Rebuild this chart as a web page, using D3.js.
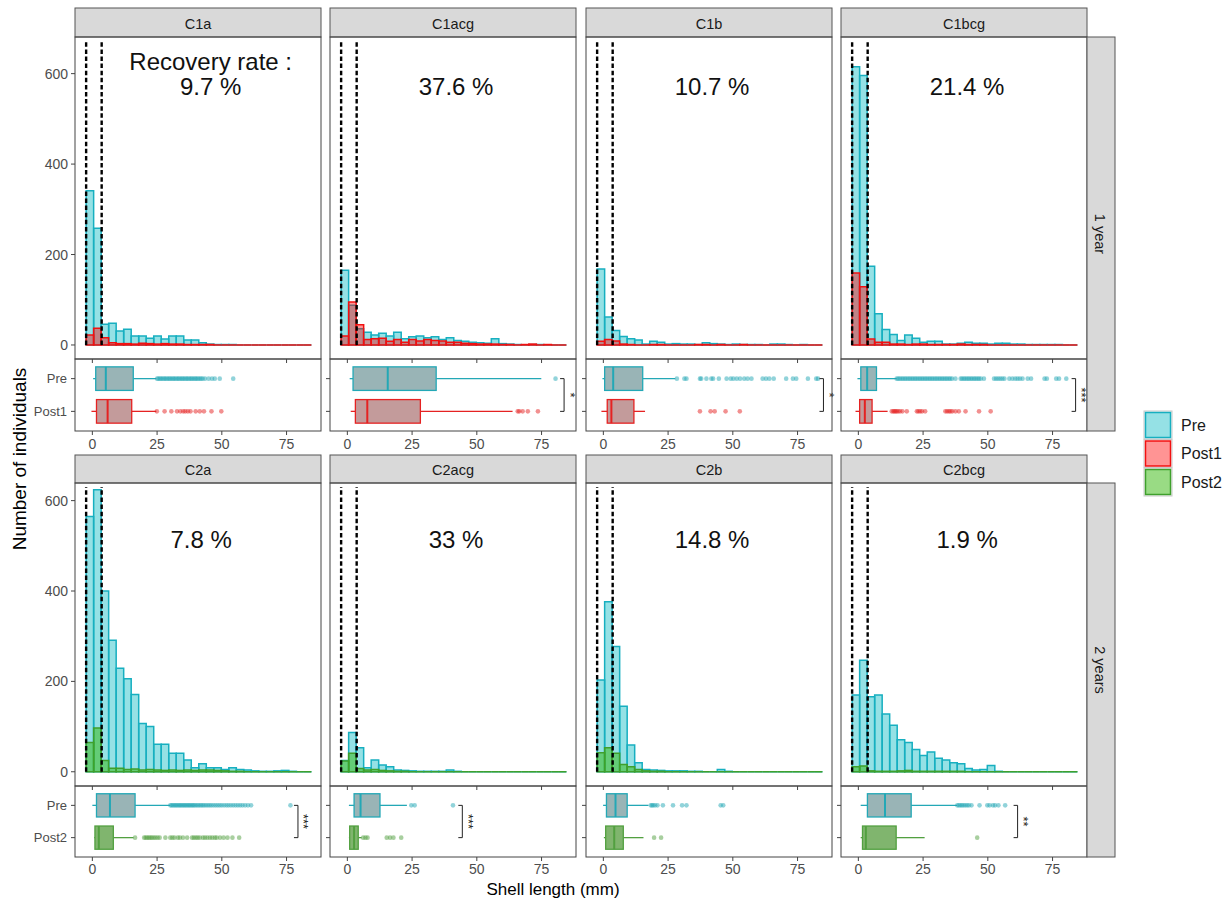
<!DOCTYPE html>
<html>
<head>
<meta charset="utf-8">
<script src="https://cdn.jsdelivr.net/npm/d3@7"></script>
<style>
  body { margin: 0; background: #fff; }
  text { font-family: "Liberation Sans", Arial, sans-serif; }
</style>
</head>
<body>
<div id="chart"></div>
<script>
// ---- data ----
const panelNames = ["C1a", "C1acg", "C1b", "C1bcg", "C2a", "C2acg", "C2b", "C2bcg"];
const recoveryLabels = ["9.7 %", "37.6 %", "10.7 %", "21.4 %", "7.8 %", "33 %", "14.8 %", "1.9 %"];
const rowLabels = ["1 year", "2 years"];
const seriesNames = ["Pre", "Post1", "Post2"];
const xTicks = [0, 25, 50, 75];
const yTicks = [0, 200, 400, 600];
const cutoffs = [-2.4, 3.6];          // dashed lines (mm)
const binStart = -2.4, binWidth = 2.9; // histogram bins (mm)

// counts per bin (30 bins)
const preCounts = [
  [341, 258, 46, 48, 31, 35, 20, 20, 15, 20, 13, 20, 20, 11, 11, 5, 2, 1, 1, 1, 0, 0, 0, 0, 0, 0, 0, 0, 0, 0],
  [165, 88, 36, 28, 22, 26, 20, 28, 14, 18, 20, 16, 18, 12, 16, 10, 8, 6, 5, 4, 14, 3, 2, 1, 0, 1, 1, 0, 0, 0],
  [168, 62, 32, 19, 14, 11, 2, 8, 6, 2, 3, 2, 2, 1, 5, 3, 2, 1, 2, 1, 1, 1, 0, 2, 2, 1, 0, 1, 0, 0],
  [615, 596, 174, 69, 34, 23, 10, 22, 15, 6, 8, 8, 2, 2, 4, 6, 4, 4, 2, 4, 4, 2, 2, 1, 1, 1, 1, 1, 0, 0],
  [565, 624, 400, 291, 229, 206, 171, 107, 100, 61, 61, 41, 41, 26, 9, 18, 9, 9, 5, 9, 5, 4, 2, 1, 1, 2, 3, 1, 0, 0],
  [25, 87, 53, 9, 26, 15, 11, 4, 3, 2, 1, 1, 1, 1, 4, 1, 0, 0, 0, 0, 0, 0, 0, 0, 0, 0, 0, 0, 0, 0],
  [203, 376, 277, 145, 59, 20, 5, 4, 3, 2, 2, 2, 1, 1, 0, 0, 5, 1, 0, 0, 0, 0, 0, 0, 0, 0, 0, 0, 0, 0],
  [170, 247, 166, 170, 128, 103, 71, 65, 49, 36, 44, 30, 26, 20, 18, 7, 4, 5, 14, 1, 0, 0, 0, 0, 0, 0, 0, 0, 0, 0]
];
const postCounts = [
  [22, 37, 16, 5, 3, 3, 2, 4, 3, 2, 3, 2, 2, 1, 1, 1, 1, 0, 0, 0, 0, 0, 0, 0, 0, 0, 0, 0, 0, 0],
  [20, 95, 45, 12, 14, 15, 8, 12, 6, 12, 9, 12, 10, 9, 6, 6, 4, 3, 2, 2, 2, 1, 1, 0, 1, 2, 0, 1, 0, 0],
  [8, 12, 9, 2, 1, 0, 0, 1, 1, 0, 0, 0, 0, 1, 1, 0, 1, 0, 0, 1, 0, 0, 0, 0, 0, 0, 0, 0, 0, 0],
  [159, 129, 13, 6, 6, 2, 2, 1, 2, 2, 1, 1, 1, 1, 2, 1, 1, 1, 0, 0, 0, 0, 0, 0, 0, 0, 0, 0, 0, 0],
  [65, 97, 25, 8, 8, 5, 6, 4, 5, 4, 3, 4, 3, 4, 3, 4, 4, 3, 2, 1, 1, 0, 0, 0, 0, 0, 0, 0, 0, 0],
  [24, 41, 7, 4, 5, 3, 2, 1, 1, 0, 0, 0, 0, 0, 0, 0, 0, 0, 0, 0, 0, 0, 0, 0, 0, 0, 0, 0, 0, 0],
  [42, 53, 41, 16, 11, 5, 2, 1, 1, 0, 0, 0, 0, 0, 0, 0, 0, 0, 0, 0, 0, 0, 0, 0, 0, 0, 0, 0, 0, 0],
  [11, 13, 2, 1, 1, 1, 2, 3, 1, 1, 1, 1, 1, 1, 1, 0, 0, 0, 0, 0, 0, 0, 0, 0, 0, 0, 0, 0, 0, 0]
];

// boxplot stats: [lower whisker, Q1, median, Q3, upper whisker]
const preBox = [
  [0.3, 1.3, 5.2, 15.8, 24.7], [0.9, 2.2, 15.6, 34.3, 74.9], [-0.35, 0.5, 3.8, 15.2, 27.8], [-0.35, 0.95, 3.4, 7.0, 14.8],
  [0, 1.6, 6.8, 16.5, 30.1], [0.6, 2.6, 5.1, 12.6, 23], [-0.1, 1.2, 4.7, 9.2, 17.4], [0.9, 3.5, 10.3, 20.4, 38.2]
];
const postBox = [
  [-0.35, 1.6, 5.9, 15.2, 24.7], [1.3, 3.1, 7.7, 28.2, 63.8], [-0.75, 1.5, 3.1, 11.8, 16.1], [-1.1, 0.5, 2.5, 5.3, 11.3],
  [0.7, 1.0, 2.5, 8.1, 15.9], [0.6, 0.9, 2.6, 4.2, 5.5], [0.2, 0.9, 4.2, 7.7, 15.5], [0.9, 1.6, 2.9, 14.6, 25.6]
];
const preOutliers = [
  [25.0, 25.5, 26.1, 26.6, 27.2, 27.8, 28.3, 28.9, 29.5, 30.0, 30.6, 31.2, 31.7, 32.3, 32.9, 33.4, 34.0, 34.6, 35.1, 35.7, 36.3, 36.8, 37.4, 38.0, 38.5, 39.1, 39.7, 40.2, 40.8, 41.4, 42.0, 42.6, 43.5, 44.9, 46.2, 47.3, 49.2, 54.4],
  [80.4],
  [28.4, 31.3, 32.1, 37.3, 37.8, 39.8, 41.7, 42.4, 44.6, 47.6, 49.2, 50.2, 51.5, 52.8, 54.4, 55.7, 57.2, 61.5, 62.8, 64.1, 65.8, 70.6, 73.2, 74.5, 79.0, 82.2, 82.9],
  [14.8, 15.4, 16.0, 16.7, 17.3, 18.0, 18.6, 19.3, 19.9, 20.6, 21.2, 21.9, 22.5, 23.2, 23.8, 24.5, 25.1, 25.8, 26.4, 27.1, 27.7, 28.4, 29.0, 29.7, 30.3, 31.0, 31.6, 32.3, 32.9, 33.6, 34.2, 34.9, 35.5, 36.2, 37.5, 39.5, 40.1, 40.8, 41.4, 42.1, 42.7, 43.4, 44.0, 44.7, 45.3, 46.0, 46.6, 47.3, 48.5, 52.4, 53.2, 54.0, 54.8, 55.6, 56.4, 58.3, 59.5, 60.6, 61.5, 62.4, 63.4, 65.4, 66.7, 71.9, 72.8, 76.4, 77.5, 80.3],
  [30.1, 30.6, 31.1, 31.6, 32.1, 32.6, 33.1, 33.6, 34.1, 34.6, 35.1, 35.6, 36.1, 36.6, 37.1, 37.6, 38.1, 38.6, 39.1, 39.6, 40.2, 40.8, 41.4, 42.0, 42.6, 43.2, 43.9, 44.6, 45.3, 46.0, 46.8, 47.6, 48.4, 49.2, 50.0, 50.9, 51.8, 52.6, 53.5, 54.4, 55.3, 56.2, 57.1, 58.0, 59.0, 60.1, 61.3, 76.5],
  [24.7, 26.0, 40.8],
  [18.3, 18.8, 19.3, 20.0, 20.9, 23.0, 26.9, 30.4, 32.1, 45.3, 46.3],
  [38.2, 38.8, 39.4, 40.0, 40.6, 41.3, 42.0, 42.7, 43.7, 46.8, 49.8, 50.7, 52.0, 52.8, 54.1, 56.7]
];
const postOutliers = [
  [24.9, 27.9, 30.5, 32.7, 34.0, 35.1, 35.9, 36.9, 37.9, 39.9, 41.5, 43.1, 46.0, 49.8],
  [65.8, 66.4, 67.7, 69.7, 73.6],
  [37.3, 41.4, 43.0, 47.2, 52.7],
  [12.9, 13.5, 13.9, 14.4, 14.8, 15.4, 16.1, 17.0, 18.7, 22.6, 23.2, 23.9, 24.6, 25.8, 33.6, 34.3, 35.0, 35.6, 36.3, 37.5, 38.8, 41.4, 46.6, 51.1],
  [16.5, 20.0, 20.6, 21.2, 21.8, 22.4, 23.0, 23.7, 24.4, 25.2, 26.0, 28.2, 30.1, 30.9, 31.7, 33.0, 33.8, 35.0, 36.6, 38.5, 39.2, 40.0, 40.7, 41.5, 42.7, 43.5, 44.4, 45.4, 46.3, 47.3, 48.0, 49.3, 50.7, 52.2, 54.1, 56.7],
  [6.1, 7.0, 7.8, 15.2, 16.5, 17.8, 20.8],
  [19.6, 22.3],
  [45.9]
];
// significance brackets (Pre vs Post)
const sigLabels = ["", "*", "*", "***", "***", "***", "", "**"];
const sigX = [null, 83.7, 85.0, 83.9, 79.4, 44.4, null, 61.5];

// ---- styles ----
const colors = {
  Pre:   { line: "#17AFC0", fill: "#13BCC6", op: 0.45, boxFill: "#99B4B6", boxLine: "#23A8B6" },
  Post1: { line: "#F21010", fill: "#FF0000", op: 0.42, boxFill: "#C39B9B", boxLine: "#E52222" },
  Post2: { line: "#3FA02C", fill: "#33B80A", op: 0.5,  boxFill: "#80B56E", boxLine: "#52A040" }
};

// ---- layout ----
const W = 1230, H = 899;
const colLeft = [75, 330, 586, 841];
const panelW = 246;
const rows = [
  { strip: [8, 37],   hist: [37, 359],  box: [359, 431], yDom: [-31, 681],   tickY: 444, textY: 571 },
  { strip: [455, 483], hist: [483, 786], box: [786, 857], yDom: [-31.5, 639], tickY: 869, textY: 515 }
];

const svg = d3.select("#chart").append("svg")
  .attr("width", W).attr("height", H)
  .style("background", "#fff");

const x = d3.scaleLinear().domain([-6.7, 88.3]).range([0, panelW]);

panelNames.forEach((name, i) => {
  const r = Math.floor(i / 4), c = i % 4;
  const row = rows[r];
  const post = seriesNames[r + 1];
  const g = svg.append("g").attr("transform", `translate(${colLeft[c]},0)`);

  const y = d3.scaleLinear().domain(row.yDom).range([row.hist[1], row.hist[0]]);
  const yb = d3.scalePoint().domain(["Pre", post]).range([row.box[0], row.box[1]]).padding(0.6);

  // strip
  g.append("rect")
    .attr("x", 0).attr("y", row.strip[0])
    .attr("width", panelW).attr("height", row.strip[1] - row.strip[0])
    .attr("fill", "#d9d9d9").attr("stroke", "#555").attr("stroke-width", 1);
  g.append("text")
    .attr("x", panelW / 2).attr("y", (row.strip[0] + row.strip[1]) / 2 + 1)
    .attr("text-anchor", "middle").attr("dominant-baseline", "central")
    .style("font-size", "14.5px").style("fill", "#1a1a1a")
    .text(name);

  // histograms (Pre underneath, Post on top); paths so empty bins still show as a baseline stroke
  [["Pre", preCounts[i]], [post, postCounts[i]]].forEach(([s, counts]) => {
    const st = colors[s];
    g.append("g").selectAll("path")
      .data(counts)
      .join("path")
      .attr("d", (d, k) => {
        const x0 = x(binStart + k * binWidth), x1 = x(binStart + (k + 1) * binWidth);
        return `M${x0},${y(0)}V${y(d)}H${x1}V${y(0)}Z`;
      })
      .attr("fill", st.fill).attr("fill-opacity", st.op)
      .attr("stroke", st.line).attr("stroke-width", 1.5)
      .attr("stroke-linejoin", "miter");
  });

  // dashed cut-off lines
  cutoffs.forEach(v => {
    g.append("line")
      .attr("x1", x(v)).attr("x2", x(v))
      .attr("y1", y(0)).attr("y2", row.hist[0] + 4)
      .attr("stroke", "#000").attr("stroke-width", 2.4)
      .attr("stroke-dasharray", "4.5,2.6");
  });

  // recovery rate text
  const tx = i === 0 ? 45.7 : 42;
  g.append("text")
    .attr("x", x(tx)).attr("y", y(row.textY))
    .attr("text-anchor", "middle").attr("dominant-baseline", "central")
    .style("font-size", "24px").style("fill", "#111")
    .text(recoveryLabels[i]);
  if (i === 0) {
    g.append("text")
      .attr("x", x(tx)).attr("y", y(row.textY) - 25)
      .attr("text-anchor", "middle").attr("dominant-baseline", "central")
      .style("font-size", "24px").style("fill", "#111")
      .text("Recovery rate :");
  }

  // hist panel border + bottom ticks
  g.append("rect")
    .attr("x", 0).attr("y", row.hist[0])
    .attr("width", panelW).attr("height", row.hist[1] - row.hist[0])
    .attr("fill", "none").attr("stroke", "#444").attr("stroke-width", 1);
  xTicks.forEach(t => {
    g.append("line")
      .attr("x1", x(t)).attr("x2", x(t))
      .attr("y1", row.hist[1]).attr("y2", row.hist[1] + 4)
      .attr("stroke", "#444");
  });

  // boxplots
  [["Pre", preBox[i], preOutliers[i]], [post, postBox[i], postOutliers[i]]].forEach(([s, b, outs]) => {
    const st = colors[s];
    const cy = yb(s);
    const hh = yb.step() * 0.36;
    g.append("line")
      .attr("x1", x(b[0])).attr("x2", x(b[1])).attr("y1", cy).attr("y2", cy)
      .attr("stroke", st.boxLine).attr("stroke-width", 1.3);
    g.append("line")
      .attr("x1", x(b[3])).attr("x2", x(b[4])).attr("y1", cy).attr("y2", cy)
      .attr("stroke", st.boxLine).attr("stroke-width", 1.3);
    g.append("rect")
      .attr("x", x(b[1])).attr("y", cy - hh)
      .attr("width", x(b[3]) - x(b[1])).attr("height", hh * 2)
      .attr("fill", st.boxFill).attr("stroke", st.boxLine).attr("stroke-width", 1.3);
    g.append("line")
      .attr("x1", x(b[2])).attr("x2", x(b[2])).attr("y1", cy - hh).attr("y2", cy + hh)
      .attr("stroke", st.boxLine).attr("stroke-width", 2);
    g.append("g").selectAll("circle")
      .data(outs)
      .join("circle")
      .attr("cx", d => x(d)).attr("cy", cy).attr("r", 2.3)
      .attr("fill", st.boxLine).attr("fill-opacity", 0.5);
  });

  // significance bracket
  if (sigX[i] !== null) {
    const bx = x(sigX[i]);
    const y1 = yb("Pre"), y2 = yb(post);
    g.append("path")
      .attr("d", `M${bx - 4},${y1}H${bx}V${y2}H${bx - 4}`)
      .attr("fill", "none").attr("stroke", "#222").attr("stroke-width", 1);
    g.append("text")
      .attr("transform", `translate(${bx + 6},${(y1 + y2) / 2}) rotate(90)`)
      .attr("text-anchor", "middle").attr("dominant-baseline", "central")
      .style("font-size", "13px").style("fill", "#222")
      .text(sigLabels[i]);
  }

  // box panel border, ticks, labels
  g.append("rect")
    .attr("x", 0).attr("y", row.box[0])
    .attr("width", panelW).attr("height", row.box[1] - row.box[0])
    .attr("fill", "none").attr("stroke", "#444").attr("stroke-width", 1);
  yb.domain().forEach(s => {
    g.append("line")
      .attr("x1", -4).attr("x2", 0).attr("y1", yb(s)).attr("y2", yb(s))
      .attr("stroke", "#444");
    if (c === 0) {
      g.append("text")
        .attr("x", -8).attr("y", yb(s))
        .attr("text-anchor", "end").attr("dominant-baseline", "central")
        .style("font-size", "13px").style("fill", "#4d4d4d")
        .text(s);
    }
  });
  xTicks.forEach(t => {
    g.append("line")
      .attr("x1", x(t)).attr("x2", x(t))
      .attr("y1", row.box[1]).attr("y2", row.box[1] + 4)
      .attr("stroke", "#444");
    g.append("text")
      .attr("x", x(t)).attr("y", row.tickY)
      .attr("text-anchor", "middle").attr("dominant-baseline", "central")
      .style("font-size", "14px").style("fill", "#4d4d4d")
      .text(t);
  });

  // y axis for the first column
  if (c === 0) {
    yTicks.forEach(t => {
      g.append("line")
        .attr("x1", -4).attr("x2", 0).attr("y1", y(t)).attr("y2", y(t))
        .attr("stroke", "#444");
      g.append("text")
        .attr("x", -7).attr("y", y(t))
        .attr("text-anchor", "end").attr("dominant-baseline", "central")
        .style("font-size", "14px").style("fill", "#4d4d4d")
        .text(t);
    });
  }
});

// right-hand row strips
rows.forEach((row, r) => {
  svg.append("rect")
    .attr("x", colLeft[3] + panelW).attr("y", row.hist[0])
    .attr("width", 28).attr("height", row.box[1] - row.hist[0])
    .attr("fill", "#d9d9d9").attr("stroke", "#555");
  svg.append("text")
    .attr("transform", `translate(${colLeft[3] + panelW + 13},${(row.hist[0] + row.box[1]) / 2}) rotate(90)`)
    .attr("text-anchor", "middle").attr("dominant-baseline", "central")
    .style("font-size", "14.5px").style("fill", "#1a1a1a")
    .text(rowLabels[r]);
});

// axis titles
svg.append("text")
  .attr("transform", "translate(19,459) rotate(-90)")
  .attr("text-anchor", "middle").attr("dominant-baseline", "central")
  .style("font-size", "19px").style("fill", "#000")
  .text("Number of individuals");
svg.append("text")
  .attr("x", 553).attr("y", 889)
  .attr("text-anchor", "middle").attr("dominant-baseline", "central")
  .style("font-size", "17px").style("fill", "#000")
  .text("Shell length (mm)");

// legend
const legend = svg.append("g").attr("transform", "translate(1144,411)");
seriesNames.forEach((s, k) => {
  const st = colors[s];
  const ly = k * 28.5;
  legend.append("rect")
    .attr("x", 0).attr("y", ly).attr("width", 28).attr("height", 28)
    .attr("fill", "#fff").attr("stroke", "#c8c8c8");
  legend.append("rect")
    .attr("x", 1.5).attr("y", ly + 1.5).attr("width", 25).attr("height", 25)
    .attr("fill", st.fill).attr("fill-opacity", st.op)
    .attr("stroke", st.line).attr("stroke-width", 1.5);
  legend.append("text")
    .attr("x", 37).attr("y", ly + 14)
    .attr("dominant-baseline", "central")
    .style("font-size", "16px").style("fill", "#1a1a1a")
    .text(s);
});
</script>
</body>
</html>
